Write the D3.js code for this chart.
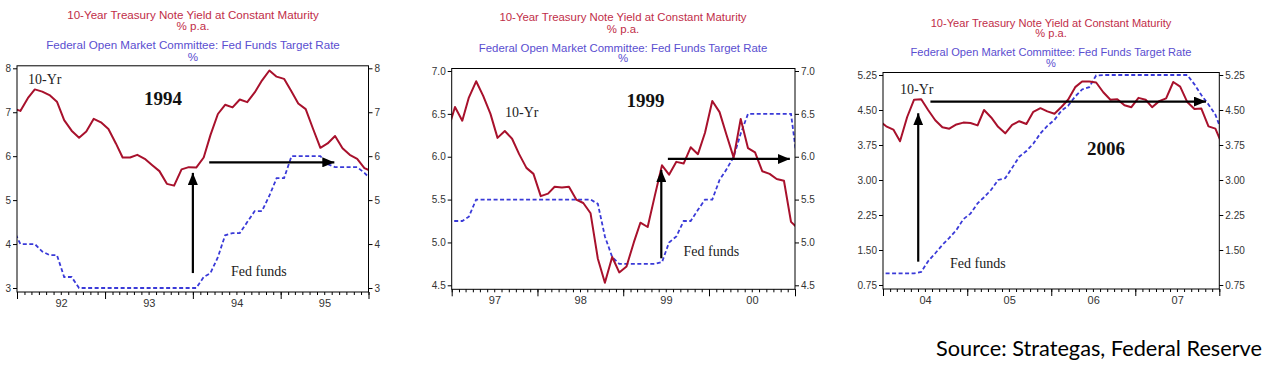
<!DOCTYPE html>
<html>
<head>
<meta charset="utf-8">
<script src="https://cdn.jsdelivr.net/npm/d3@7"></script>
<style>
  body { margin: 0; background: #fff; }
  svg { display: block; }
</style>
</head>
<body>
<div class="container"></div>
<script>
const w = 1270;
const h = 373;

// monthly values, first entry is the month before the axis starts (clipped at the edge)
const tenYr1994 = [7.09,
  7.03, 7.32, 7.52, 7.47, 7.39, 7.24, 6.82, 6.58, 6.42, 6.56, 6.85, 6.77,
  6.62, 6.29, 5.97, 5.97, 6.03, 5.94, 5.80, 5.66, 5.37, 5.33, 5.70, 5.75,
  5.74, 5.97, 6.48, 6.96, 7.17, 7.11, 7.29, 7.23, 7.45, 7.72, 7.95, 7.81,
  7.76, 7.47, 7.20, 7.07, 6.63, 6.19, 6.29, 6.46, 6.18, 6.03, 5.94, 5.73,
  5.65];
const fed1994 = [4.35,
  4.0, 4.0, 4.0, 3.83, 3.75, 3.75, 3.25, 3.25, 3.0, 3.0, 3.0, 3.0,
  3.0, 3.0, 3.0, 3.0, 3.0, 3.0, 3.0, 3.0, 3.0, 3.0, 3.0, 3.0,
  3.0, 3.25, 3.34, 3.7, 4.2, 4.25, 4.25, 4.5, 4.75, 4.75, 5.1, 5.5,
  5.5, 6.0, 6.0, 6.0, 6.0, 6.0, 5.82, 5.75, 5.75, 5.75, 5.75, 5.62,
  5.45];

const tenYr1999 = [6.30,
  6.58, 6.42, 6.69, 6.88, 6.71, 6.50, 6.22, 6.30, 6.21, 6.03, 5.87, 5.80,
  5.54, 5.57, 5.65, 5.64, 5.65, 5.50, 5.46, 5.34, 4.81, 4.53, 4.83, 4.65,
  4.72, 5.00, 5.23, 5.18, 5.54, 5.90, 5.79, 5.94, 5.92, 6.11, 6.03, 6.28,
  6.65, 6.52, 6.26, 5.99, 6.44, 6.10, 6.05, 5.83, 5.80, 5.74, 5.72, 5.24,
  5.16];
const fed1999 = [5.25,
  5.25, 5.25, 5.3, 5.5, 5.5, 5.5, 5.5, 5.5, 5.5, 5.5, 5.5, 5.5,
  5.5, 5.5, 5.5, 5.5, 5.5, 5.5, 5.5, 5.5, 5.45, 5.07, 4.83, 4.75,
  4.75, 4.75, 4.75, 4.75, 4.75, 4.77, 5.0, 5.07, 5.25, 5.25, 5.38, 5.5,
  5.5, 5.73, 5.85, 6.0, 6.27, 6.5, 6.5, 6.5, 6.5, 6.5, 6.5, 6.5,
  5.85];

const tenYr2006 = [4.27,
  4.15, 4.08, 3.83, 4.35, 4.72, 4.73, 4.50, 4.28, 4.13, 4.10, 4.19, 4.23,
  4.22, 4.17, 4.50, 4.34, 4.14, 4.00, 4.18, 4.26, 4.20, 4.46, 4.54, 4.47,
  4.42, 4.57, 4.72, 4.99, 5.11, 5.11, 5.09, 4.88, 4.72, 4.73, 4.60, 4.56,
  4.76, 4.72, 4.56, 4.69, 4.75, 5.10, 5.00, 4.67, 4.52, 4.53, 4.15, 4.10,
  3.74];
const fed2006 = [1.0,
  1.0, 1.0, 1.0, 1.0, 1.0, 1.03, 1.26, 1.43, 1.61, 1.76, 1.93, 2.16,
  2.28, 2.5, 2.63, 2.79, 3.0, 3.04, 3.26, 3.5, 3.62, 3.78, 4.0, 4.16,
  4.29, 4.49, 4.59, 4.79, 4.94, 4.99, 5.24, 5.25, 5.25, 5.25, 5.25, 5.25,
  5.25, 5.25, 5.25, 5.25, 5.25, 5.25, 5.25, 5.25, 5.05, 4.82, 4.62, 4.4,
  4.0];

const yTicks1994 = [3, 4, 5, 6, 7, 8];
const yTicks1999 = [4.5, 5.0, 5.5, 6.0, 6.5, 7.0];
const yTicks2006 = [0.75, 1.5, 2.25, 3.0, 3.75, 4.5, 5.25];

const titleTenYr = '10-Year Treasury Note Yield at Constant Maturity';
const titleFed = 'Federal Open Market Committee: Fed Funds Target Rate';
const sourceText = 'Source: Strategas, Federal Reserve';

const redLine = '#a8112c';
const blueLine = '#3a3ad8';
const redTitle = '#bf2d48';
const blueTitle = '#5a4ed0';

const panels = [
  {
    name: '1994', firstYear: 1992, tenYr: tenYr1994, fed: fed1994,
    yTicks: yTicks1994, fmt: d3.format('d'),
    left: 17, right: 368.5, yTop: 68.3, yBottom: 288,
    titleX: 193, titleY: [19, 30, 49, 60.5], titleSize: 11.6, xLabelY: 307,
    tenLabel: [28, 84], bigLabel: [163, 105], fedLabel: [231, 276],
    upArrow: { date: [1994, 0, 1], from: 3.34, to: 5.62 },
    rightArrow: { value: 5.86, from: [1994, 2, 10], to: [1995, 7, 12] },
  },
  {
    name: '1999', firstYear: 1997, tenYr: tenYr1999, fed: fed1999,
    yTicks: yTicks1999, fmt: d3.format('.1f'),
    left: 451.7, right: 795, yTop: 71, yBottom: 285.3,
    titleX: 623, titleY: [20.7, 33, 51.7, 62.3], titleSize: 11.4, xLabelY: 304.5,
    tenLabel: [505, 116.5], bigLabel: [645.5, 107], fedLabel: [683.5, 256],
    upArrow: { date: [1999, 5, 12], from: 4.815, to: 5.845 },
    rightArrow: { value: 5.974, from: [1999, 6, 10], to: [2000, 11, 10] },
  },
  {
    name: '2006', firstYear: 2004, tenYr: tenYr2006, fed: fed2006,
    yTicks: yTicks2006, fmt: d3.format('.2f'),
    left: 883, right: 1219.3, yTop: 75, yBottom: 285,
    titleX: 1051, titleY: [26.7, 37.3, 56.3, 67.3], titleSize: 11.1, xLabelY: 303.5,
    tenLabel: [900, 94], bigLabel: [1106, 155], fedLabel: [950, 268],
    upArrow: { date: [2004, 5, 2], from: 1.25, to: 4.43 },
    rightArrow: { value: 4.68, from: [2004, 6, 25], to: [2007, 10, 4] },
  },
];

let svg = null;

window.onload = () => {
  setSvg();
  panels.forEach(drawPanel);
  addSource();
};

function setSvg() {
  svg = d3.select('.container').append('svg')
    .attr('width', w)
    .attr('height', h);

  const defs = svg.append('defs');
  defs.append('marker')
    .attr('id', 'head')
    .attr('viewBox', '0 0 12 10')
    .attr('refX', 12)
    .attr('refY', 5)
    .attr('markerWidth', 12)
    .attr('markerHeight', 10)
    .attr('markerUnits', 'userSpaceOnUse')
    .attr('orient', 'auto')
    .append('path')
    .attr('d', 'M0,0 L12,5 L0,10 Z')
    .attr('fill', '#000');
}

function monthDate(p, i) {
  // index 0 is December before firstYear, plotted mid-month
  return new Date(p.firstYear, i - 1, 15);
}

function drawPanel(p, k) {
  const x = d3.scaleTime()
    .domain([new Date(p.firstYear, 0, 1), new Date(p.firstYear + 4, 0, 1)])
    .range([p.left, p.right]);
  const y = d3.scaleLinear()
    .domain([p.yTicks[0], p.yTicks[p.yTicks.length - 1]])
    .range([p.yBottom, p.yTop]);

  const g = svg.append('g').attr('class', 'panel-' + p.name);
  const frameTop = p.yTop - 2.5;
  const frameBottom = p.yBottom + 4;

  // titles
  const titles = [
    [titleTenYr, redTitle], ['% p.a.', redTitle],
    [titleFed, blueTitle], ['%', blueTitle],
  ];
  g.selectAll('text.title').data(titles).enter().append('text')
    .attr('class', 'title')
    .attr('x', p.titleX)
    .attr('y', (d, i) => p.titleY[i])
    .attr('text-anchor', 'middle')
    .attr('font-family', 'Liberation Sans, Arial, sans-serif')
    .attr('font-size', p.titleSize + 'px')
    .attr('fill', (d) => d[1])
    .text((d) => d[0]);

  // clip
  const clipId = 'clip' + k;
  svg.select('defs').append('clipPath').attr('id', clipId)
    .append('rect')
    .attr('x', p.left).attr('y', frameTop)
    .attr('width', p.right - p.left).attr('height', frameBottom - frameTop);

  const line = d3.line()
    .x((d, i) => x(monthDate(p, i)))
    .y((d) => y(d));

  const plot = g.append('g').attr('clip-path', 'url(#' + clipId + ')');
  plot.append('path')
    .datum(p.fed)
    .attr('d', line)
    .attr('fill', 'none')
    .attr('stroke', blueLine)
    .attr('stroke-width', 1.8)
    .attr('stroke-dasharray', '4,2.5');
  plot.append('path')
    .datum(p.tenYr)
    .attr('d', line)
    .attr('fill', 'none')
    .attr('stroke', redLine)
    .attr('stroke-width', 2)
    .attr('stroke-linejoin', 'round');

  // frame
  g.append('rect')
    .attr('x', p.left).attr('y', frameTop)
    .attr('width', p.right - p.left).attr('height', frameBottom - frameTop)
    .attr('fill', 'none')
    .attr('stroke', '#000')
    .attr('stroke-width', 1);

  // y axes
  const yl = g.append('g').attr('transform', `translate(${p.left},0)`)
    .call(d3.axisLeft(y).tickValues(p.yTicks).tickFormat(p.fmt).tickSize(4).tickPadding(2));
  const yr = g.append('g').attr('transform', `translate(${p.right},0)`)
    .call(d3.axisRight(y).tickValues(p.yTicks).tickFormat(p.fmt).tickSize(4).tickPadding(2));
  [yl, yr].forEach((a) => {
    a.select('.domain').remove();
    a.selectAll('text')
      .attr('font-family', 'Liberation Sans, Arial, sans-serif')
      .attr('font-size', '10px')
      .attr('fill', '#333');
  });

  // x axis: month ticks, year ticks, year labels at mid-year
  const xa = g.append('g').attr('transform', `translate(0,${frameBottom})`);
  xa.append('g')
    .call(d3.axisBottom(x).ticks(d3.timeMonth.every(1)).tickSize(3).tickFormat(''))
    .select('.domain').remove();
  xa.append('g')
    .call(d3.axisBottom(x).ticks(d3.timeYear.every(1)).tickSize(7).tickFormat(''))
    .select('.domain').remove();
  const midYears = d3.range(4).map((i) => new Date(p.firstYear + i, 6, 2));
  const xl = xa.append('g')
    .call(d3.axisBottom(x).tickValues(midYears).tickSize(0).tickFormat(d3.timeFormat('%y')));
  xl.select('.domain').remove();
  xl.selectAll('text')
    .attr('y', p.xLabelY - frameBottom)
    .attr('dy', 0)
    .attr('font-family', 'Liberation Sans, Arial, sans-serif')
    .attr('font-size', '11px')
    .attr('fill', '#333');
  xa.selectAll('line').attr('stroke', '#000');
  g.selectAll('.tick line').attr('stroke', '#000');

  // annotations
  const serif = 'Liberation Serif, Times New Roman, serif';
  g.append('text').attr('x', p.tenLabel[0]).attr('y', p.tenLabel[1])
    .attr('font-family', serif).attr('font-size', '14px').attr('fill', '#222')
    .text('10-Yr');
  g.append('text').attr('x', p.bigLabel[0]).attr('y', p.bigLabel[1])
    .attr('text-anchor', 'middle')
    .attr('font-family', serif).attr('font-size', '19px').attr('font-weight', 'bold')
    .attr('fill', '#111')
    .text(p.name);
  g.append('text').attr('x', p.fedLabel[0]).attr('y', p.fedLabel[1])
    .attr('font-family', serif).attr('font-size', '14px').attr('fill', '#222')
    .text('Fed funds');

  const ua = p.upArrow;
  g.append('line')
    .attr('x1', x(new Date(...ua.date))).attr('x2', x(new Date(...ua.date)))
    .attr('y1', y(ua.from)).attr('y2', y(ua.to))
    .attr('stroke', '#000').attr('stroke-width', 2.2)
    .attr('marker-end', 'url(#head)');
  const ra = p.rightArrow;
  g.append('line')
    .attr('x1', x(new Date(...ra.from))).attr('x2', x(new Date(...ra.to)))
    .attr('y1', y(ra.value)).attr('y2', y(ra.value))
    .attr('stroke', '#000').attr('stroke-width', 2.2)
    .attr('marker-end', 'url(#head)');
}

function addSource() {
  svg.append('text')
    .attr('x', 936)
    .attr('y', 356)
    .attr('font-family', 'Lato, Open Sans, sans-serif')
    .attr('font-size', '21px')
    .attr('fill', '#000')
    .attr('textLength', 326)
    .attr('lengthAdjust', 'spacingAndGlyphs')
    .text(sourceText);
}
</script>
</body>
</html>
